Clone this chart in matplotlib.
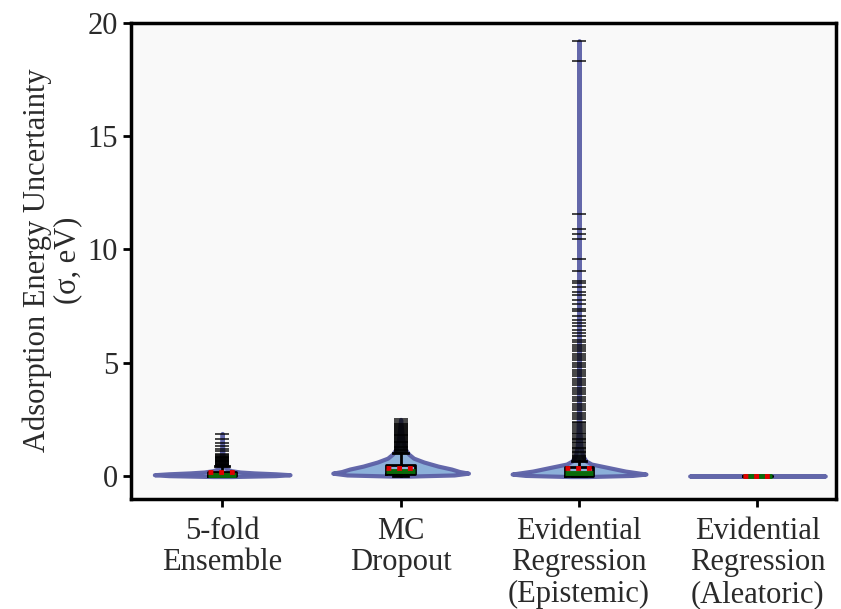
import numpy as np
import matplotlib.pyplot as plt

plt.rcParams['font.family'] = ['Liberation Serif', 'DejaVu Serif']

# method names on the x axis
methods = ['5-fold\nEnsemble', 'MC\nDropout', 'Evidential\nRegression\n(Epistemic)',
           'Evidential\nRegression\n(Aleatoric)']

# violin outlines: uncertainty level (eV) and half width of the density
ens_y = [-0.02, 0.02, 0.06, 0.10, 0.14, 0.18, 0.24, 0.32, 0.45, 0.7, 1.0, 1.4, 1.88]
ens_w = [0.05, 0.30, 0.38, 0.30, 0.18, 0.10, 0.05, 0.025, 0.012, 0.006, 0.004, 0.002, 0.0]
mcd_y = [0.0, 0.05, 0.13, 0.20, 0.31, 0.44, 0.62, 0.79, 0.97, 1.2, 1.6, 2.0, 2.5]
mcd_w = [0.05, 0.30, 0.38, 0.33, 0.285, 0.21, 0.13, 0.073, 0.045, 0.025, 0.012, 0.006, 0.0]
epi_y = [-0.02, 0.03, 0.09, 0.22, 0.40, 0.53, 0.66, 0.9, 1.3, 2.0, 3.0, 5.0, 8.0, 12.0, 19.2]
epi_w = [0.05, 0.30, 0.375, 0.26, 0.15, 0.07, 0.04, 0.02, 0.01, 0.005, 0.003, 0.002, 0.001, 0.0005, 0.0]
ale_y = [0.0, 0.005, 0.01]
ale_w = [0.30, 0.38, 0.30]

# box statistics: q1, median, mean, q3, whisker low, whisker high
ens_stats = [0.01, 0.07, 0.16, 0.20, 0.0, 0.45]
mcd_stats = [0.10, 0.22, 0.34, 0.50, 0.0, 1.00]
epi_stats = [0.02, 0.13, 0.35, 0.42, 0.0, 0.66]
ale_stats = [0.0, 0.005, 0.008, 0.01, 0.0, 0.02]

# outliers beyond the whiskers
ens_fliers = [0.48, 0.5, 0.52, 0.55, 0.57, 0.6, 0.62, 0.65, 0.67, 0.7, 0.72, 0.75,
              0.78, 0.8, 0.83, 0.86, 0.9, 0.93, 0.97, 1.1, 1.19, 1.33, 1.45, 1.63, 1.85]
mcd_fliers = [1.03, 1.06, 1.1, 1.13, 1.16, 1.2, 1.24, 1.27, 1.3, 1.34, 1.38, 1.41,
              1.45, 1.49, 1.52, 1.56, 1.6, 1.64, 1.67, 1.71, 1.75, 1.79, 1.83, 1.87,
              1.91, 1.95, 1.99, 2.03, 2.07, 2.11, 2.15, 2.2, 2.24, 2.28, 2.35, 2.45, 2.5]
epi_fliers = [0.7, 0.75, 0.8, 0.85, 0.9, 0.95, 1.0, 1.06, 1.12, 1.18, 1.24, 1.3,
              1.37, 1.44, 1.5, 1.57, 1.64, 1.7, 1.78, 1.85, 1.92, 2.0, 2.08, 2.16,
              2.24, 2.32, 2.4, 2.5, 2.6, 2.7, 2.8, 2.9, 3.0, 3.1, 3.2, 3.3, 3.4,
              3.5, 3.6, 3.7, 3.8, 3.9, 4.0, 4.1, 4.2, 4.3, 4.4, 4.5, 4.6, 4.7,
              4.8, 4.9, 5.0, 5.1, 5.2, 5.3, 5.4, 5.5, 5.6, 5.7, 5.8, 5.9, 6.0,
              6.18, 6.33, 6.44, 6.62, 6.77, 6.89, 7.06, 7.26, 7.36, 7.58, 7.77,
              7.97, 8.12, 8.36, 8.5, 8.6, 9.03, 9.59, 10.44, 10.66, 10.88,
              11.54, 18.3, 19.2]
ale_fliers = []

profiles = [(ens_y, ens_w), (mcd_y, mcd_w), (epi_y, epi_w), (ale_y, ale_w)]
all_stats = [ens_stats, mcd_stats, epi_stats, ale_stats]
all_fliers = [ens_fliers, mcd_fliers, epi_fliers, ale_fliers]

fig, ax = plt.subplots(figsize=(8.41, 6.09), dpi=100)
fig.subplots_adjust(left=0.156, right=0.994, top=0.963, bottom=0.181)
ax.set_facecolor('#f9f9f9')

# violins
for i, (yy, ww) in enumerate(profiles):
    yy = np.array(yy)
    ww = np.array(ww)
    ax.fill_betweenx(yy, i - ww, i + ww, facecolor='#86acd8', edgecolor='#5c60a6',
                     linewidth=3, alpha=0.95, joinstyle='round', capstyle='round',
                     zorder=2)

# box plots on top
bxp_stats = []
for st, fl in zip(all_stats, all_fliers):
    q1, med, mean, q3, lo, hi = st
    bxp_stats.append(dict(q1=q1, med=med, mean=mean, q3=q3, whislo=lo, whishi=hi,
                          fliers=fl))
ax.bxp(bxp_stats, positions=range(4), widths=0.16, showmeans=True, meanline=True,
       boxprops=dict(color='black', linewidth=2),
       whiskerprops=dict(color='black', linewidth=2),
       capprops=dict(color='black', linewidth=2),
       medianprops=dict(color='#0a6b0a', linewidth=3.5),
       meanprops=dict(color='#e00000', linewidth=3.5, linestyle=(0, (1, 1.2))),
       flierprops=dict(marker='_', markersize=10, markeredgecolor='black',
                       markeredgewidth=1.2, alpha=0.85),
       zorder=3)

ax.set_xlim(-0.51, 3.44)
ax.set_ylim(-1, 20)
ax.set_yticks([0, 5, 10, 15, 20])
ax.set_xticks(range(4))
ax.set_xticklabels(methods, linespacing=1.12)
ax.set_ylabel('Adsorption Energy Uncertainty\n(σ, eV)', fontsize=22, color='#2a2a2a',
              linespacing=1.05)
ax.tick_params(labelsize=22, labelcolor='#2a2a2a', width=2, length=6)
ax.tick_params(axis='x', pad=7)
for sp in ax.spines.values():
    sp.set_linewidth(2.5)
    sp.set_color('black')

fig.savefig('out.png', dpi=100)
